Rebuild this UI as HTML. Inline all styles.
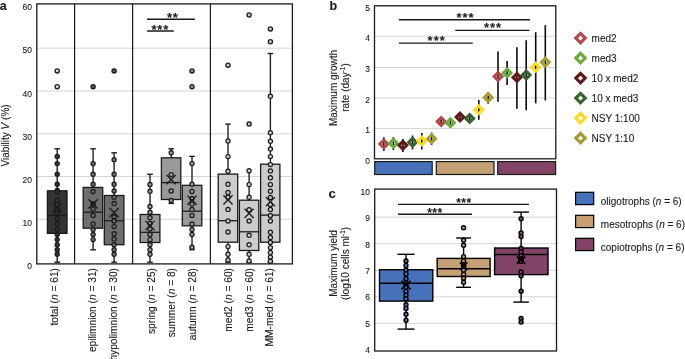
<!DOCTYPE html>
<html lang="en"><head><meta charset="utf-8"><title>Figure</title>
<style>
html,body{margin:0;padding:0;background:#fff;}
body{width:685px;height:359px;overflow:hidden;}
svg{display:block;font-family:"Liberation Sans", sans-serif;}
</style></head><body>
<svg width="685" height="359" viewBox="0 0 685 359">
<rect x="0" y="0" width="685" height="359" fill="#ffffff"/>
<line x1="36.80" y1="48.20" x2="292.40" y2="48.20" stroke="#d4d4d4" stroke-width="1" />
<line x1="36.80" y1="91.00" x2="292.40" y2="91.00" stroke="#d4d4d4" stroke-width="1" />
<line x1="36.80" y1="133.90" x2="292.40" y2="133.90" stroke="#d4d4d4" stroke-width="1" />
<line x1="36.80" y1="176.50" x2="292.40" y2="176.50" stroke="#d4d4d4" stroke-width="1" />
<line x1="36.80" y1="219.20" x2="292.40" y2="219.20" stroke="#d4d4d4" stroke-width="1" />
<text x="32.00" y="10.33" font-size="8.5" text-anchor="end" font-weight="normal" fill="#1a1a1a" stroke="#1a1a1a" stroke-width="0.1" >60</text>
<text x="32.00" y="53.45" font-size="8.5" text-anchor="end" font-weight="normal" fill="#1a1a1a" stroke="#1a1a1a" stroke-width="0.1" >50</text>
<text x="32.00" y="96.57" font-size="8.5" text-anchor="end" font-weight="normal" fill="#1a1a1a" stroke="#1a1a1a" stroke-width="0.1" >40</text>
<text x="32.00" y="139.69" font-size="8.5" text-anchor="end" font-weight="normal" fill="#1a1a1a" stroke="#1a1a1a" stroke-width="0.1" >30</text>
<text x="32.00" y="182.81" font-size="8.5" text-anchor="end" font-weight="normal" fill="#1a1a1a" stroke="#1a1a1a" stroke-width="0.1" >20</text>
<text x="32.00" y="225.93" font-size="8.5" text-anchor="end" font-weight="normal" fill="#1a1a1a" stroke="#1a1a1a" stroke-width="0.1" >10</text>
<text x="32.00" y="269.05" font-size="8.5" text-anchor="end" font-weight="normal" fill="#1a1a1a" stroke="#1a1a1a" stroke-width="0.1" >0</text>
<text x="9.10" y="135.40" font-size="10" text-anchor="middle" font-weight="normal" fill="#1a1a1a" stroke="#1a1a1a" stroke-width="0.1" transform="rotate(-90 9.10 135.40)" >Viability <tspan font-style="italic">V</tspan> (%)</text>
<text x="-0.30" y="10.00" font-size="12.5" text-anchor="start" font-weight="bold" fill="#1a1a1a" stroke="#1a1a1a" stroke-width="0.1" >a</text>
<line x1="57.20" y1="148.80" x2="57.20" y2="262.20" stroke="#1a1a1a" stroke-width="1.35" />
<line x1="54.40" y1="148.80" x2="60.00" y2="148.80" stroke="#1a1a1a" stroke-width="1.35" />
<line x1="54.40" y1="262.20" x2="60.00" y2="262.20" stroke="#1a1a1a" stroke-width="1.35" />
<rect x="47.40" y="190.80" width="19.60" height="42.60" fill="#333333" stroke="#1a1a1a" stroke-width="1.3"/>
<line x1="47.40" y1="215.50" x2="67.00" y2="215.50" stroke="#1a1a1a" stroke-width="1.3" />
<circle cx="57.20" cy="156.40" r="2.1" fill="#333333" stroke="#1a1a1a" stroke-width="1.2"/>
<circle cx="57.20" cy="163.60" r="2.1" fill="#333333" stroke="#1a1a1a" stroke-width="1.2"/>
<circle cx="57.20" cy="174.30" r="2.1" fill="#333333" stroke="#1a1a1a" stroke-width="1.2"/>
<circle cx="57.20" cy="184.20" r="2.1" fill="#333333" stroke="#1a1a1a" stroke-width="1.2"/>
<circle cx="57.20" cy="190.40" r="2.1" fill="#333333" stroke="#1a1a1a" stroke-width="1.2"/>
<circle cx="57.20" cy="191.80" r="2.1" fill="#333333" stroke="#1a1a1a" stroke-width="1.2"/>
<circle cx="57.20" cy="200.50" r="2.1" fill="#333333" stroke="#1a1a1a" stroke-width="1.2"/>
<circle cx="57.20" cy="204.60" r="2.1" fill="#333333" stroke="#1a1a1a" stroke-width="1.2"/>
<circle cx="57.20" cy="209.00" r="2.1" fill="#333333" stroke="#1a1a1a" stroke-width="1.2"/>
<circle cx="57.20" cy="212.60" r="2.1" fill="#333333" stroke="#1a1a1a" stroke-width="1.2"/>
<circle cx="57.20" cy="218.50" r="2.1" fill="#333333" stroke="#1a1a1a" stroke-width="1.2"/>
<circle cx="57.20" cy="223.90" r="2.1" fill="#333333" stroke="#1a1a1a" stroke-width="1.2"/>
<circle cx="57.20" cy="229.10" r="2.1" fill="#333333" stroke="#1a1a1a" stroke-width="1.2"/>
<circle cx="57.20" cy="234.50" r="2.1" fill="#333333" stroke="#1a1a1a" stroke-width="1.2"/>
<circle cx="57.20" cy="239.60" r="2.1" fill="#333333" stroke="#1a1a1a" stroke-width="1.2"/>
<circle cx="57.20" cy="244.70" r="2.1" fill="#333333" stroke="#1a1a1a" stroke-width="1.2"/>
<circle cx="57.20" cy="249.80" r="2.1" fill="#333333" stroke="#1a1a1a" stroke-width="1.2"/>
<circle cx="57.20" cy="254.20" r="2.1" fill="#333333" stroke="#1a1a1a" stroke-width="1.2"/>
<circle cx="57.20" cy="70.90" r="2.1" fill="#d9d9d9" stroke="#1a1a1a" stroke-width="1.3"/>
<circle cx="57.20" cy="86.70" r="2.1" fill="#d9d9d9" stroke="#1a1a1a" stroke-width="1.3"/>
<line x1="52.60" y1="202.90" x2="61.80" y2="212.10" stroke="#1a1a1a" stroke-width="1.3" />
<line x1="52.60" y1="212.10" x2="61.80" y2="202.90" stroke="#1a1a1a" stroke-width="1.3" />
<text x="58.30" y="268.00" font-size="10.2" text-anchor="end" font-weight="normal" fill="#1a1a1a" stroke="#1a1a1a" stroke-width="0.1" transform="rotate(-90 58.30 268.00)" >total (<tspan font-style="italic">n</tspan> = 61)</text>
<line x1="93.10" y1="148.80" x2="93.10" y2="249.80" stroke="#1a1a1a" stroke-width="1.35" />
<line x1="90.30" y1="148.80" x2="95.90" y2="148.80" stroke="#1a1a1a" stroke-width="1.35" />
<line x1="90.30" y1="249.80" x2="95.90" y2="249.80" stroke="#1a1a1a" stroke-width="1.35" />
<rect x="83.20" y="187.40" width="19.50" height="40.80" fill="#6e6e6e" stroke="#1a1a1a" stroke-width="1.3"/>
<line x1="83.20" y1="212.20" x2="102.70" y2="212.20" stroke="#1a1a1a" stroke-width="1.3" />
<circle cx="93.10" cy="163.60" r="2.1" fill="#6e6e6e" stroke="#1a1a1a" stroke-width="1.2"/>
<circle cx="93.10" cy="174.30" r="2.1" fill="#6e6e6e" stroke="#1a1a1a" stroke-width="1.2"/>
<circle cx="93.10" cy="184.20" r="2.1" fill="#6e6e6e" stroke="#1a1a1a" stroke-width="1.2"/>
<circle cx="93.10" cy="191.50" r="2.1" fill="#6e6e6e" stroke="#1a1a1a" stroke-width="1.2"/>
<circle cx="93.10" cy="209.00" r="2.1" fill="#6e6e6e" stroke="#1a1a1a" stroke-width="1.2"/>
<circle cx="93.10" cy="215.50" r="2.1" fill="#6e6e6e" stroke="#1a1a1a" stroke-width="1.2"/>
<circle cx="93.10" cy="223.90" r="2.1" fill="#6e6e6e" stroke="#1a1a1a" stroke-width="1.2"/>
<circle cx="93.10" cy="229.40" r="2.1" fill="#6e6e6e" stroke="#1a1a1a" stroke-width="1.2"/>
<circle cx="93.10" cy="234.50" r="2.1" fill="#6e6e6e" stroke="#1a1a1a" stroke-width="1.2"/>
<circle cx="93.10" cy="239.60" r="2.1" fill="#6e6e6e" stroke="#1a1a1a" stroke-width="1.2"/>
<circle cx="93.10" cy="203.90" r="2.1" fill="#2a2a2a" stroke="#1a1a1a" stroke-width="1.2"/>
<circle cx="93.10" cy="86.70" r="2.1" fill="#5a5a5a" stroke="#1a1a1a" stroke-width="1.3"/>
<line x1="88.50" y1="199.30" x2="97.70" y2="208.50" stroke="#1a1a1a" stroke-width="1.3" />
<line x1="88.50" y1="208.50" x2="97.70" y2="199.30" stroke="#1a1a1a" stroke-width="1.3" />
<text x="96.40" y="268.00" font-size="10.2" text-anchor="end" font-weight="normal" fill="#1a1a1a" stroke="#1a1a1a" stroke-width="0.1" transform="rotate(-90 96.40 268.00)" >epilimnion (<tspan font-style="italic">n</tspan> = 31)</text>
<line x1="114.10" y1="152.80" x2="114.10" y2="262.20" stroke="#1a1a1a" stroke-width="1.35" />
<line x1="111.30" y1="152.80" x2="116.90" y2="152.80" stroke="#1a1a1a" stroke-width="1.35" />
<line x1="111.30" y1="262.20" x2="116.90" y2="262.20" stroke="#1a1a1a" stroke-width="1.35" />
<rect x="104.30" y="195.50" width="19.60" height="49.20" fill="#6e6e6e" stroke="#1a1a1a" stroke-width="1.3"/>
<line x1="104.30" y1="220.70" x2="123.90" y2="220.70" stroke="#1a1a1a" stroke-width="1.3" />
<circle cx="114.10" cy="159.70" r="2.1" fill="#6e6e6e" stroke="#1a1a1a" stroke-width="1.2"/>
<circle cx="114.10" cy="174.30" r="2.1" fill="#6e6e6e" stroke="#1a1a1a" stroke-width="1.2"/>
<circle cx="114.10" cy="184.20" r="2.1" fill="#6e6e6e" stroke="#1a1a1a" stroke-width="1.2"/>
<circle cx="114.10" cy="191.00" r="2.1" fill="#6e6e6e" stroke="#1a1a1a" stroke-width="1.2"/>
<circle cx="114.10" cy="197.30" r="2.1" fill="#6e6e6e" stroke="#1a1a1a" stroke-width="1.2"/>
<circle cx="114.10" cy="203.40" r="2.1" fill="#6e6e6e" stroke="#1a1a1a" stroke-width="1.2"/>
<circle cx="114.10" cy="217.00" r="2.1" fill="#6e6e6e" stroke="#1a1a1a" stroke-width="1.2"/>
<circle cx="114.10" cy="221.00" r="2.1" fill="#6e6e6e" stroke="#1a1a1a" stroke-width="1.2"/>
<circle cx="114.10" cy="226.60" r="2.1" fill="#6e6e6e" stroke="#1a1a1a" stroke-width="1.2"/>
<circle cx="114.10" cy="233.80" r="2.1" fill="#6e6e6e" stroke="#1a1a1a" stroke-width="1.2"/>
<circle cx="114.10" cy="238.90" r="2.1" fill="#6e6e6e" stroke="#1a1a1a" stroke-width="1.2"/>
<circle cx="114.10" cy="244.70" r="2.1" fill="#6e6e6e" stroke="#1a1a1a" stroke-width="1.2"/>
<circle cx="114.10" cy="249.80" r="2.1" fill="#6e6e6e" stroke="#1a1a1a" stroke-width="1.2"/>
<circle cx="114.10" cy="254.20" r="2.1" fill="#6e6e6e" stroke="#1a1a1a" stroke-width="1.2"/>
<circle cx="114.10" cy="70.90" r="2.1" fill="#5a5a5a" stroke="#1a1a1a" stroke-width="1.3"/>
<line x1="109.50" y1="208.00" x2="118.70" y2="217.20" stroke="#1a1a1a" stroke-width="1.3" />
<line x1="109.50" y1="217.20" x2="118.70" y2="208.00" stroke="#1a1a1a" stroke-width="1.3" />
<text x="116.50" y="268.00" font-size="10.2" text-anchor="end" font-weight="normal" fill="#1a1a1a" stroke="#1a1a1a" stroke-width="0.1" transform="rotate(-90 116.50 268.00)" >hypolimnion (<tspan font-style="italic">n</tspan> = 30)</text>
<line x1="150.00" y1="174.30" x2="150.00" y2="262.20" stroke="#1a1a1a" stroke-width="1.35" />
<line x1="147.20" y1="174.30" x2="152.80" y2="174.30" stroke="#1a1a1a" stroke-width="1.35" />
<line x1="147.20" y1="262.20" x2="152.80" y2="262.20" stroke="#1a1a1a" stroke-width="1.35" />
<rect x="140.20" y="214.50" width="19.70" height="28.00" fill="#999999" stroke="#1a1a1a" stroke-width="1.3"/>
<line x1="140.20" y1="232.30" x2="159.90" y2="232.30" stroke="#1a1a1a" stroke-width="1.3" />
<circle cx="150.00" cy="184.50" r="2.1" fill="#999999" stroke="#1a1a1a" stroke-width="1.2"/>
<circle cx="150.00" cy="191.30" r="2.1" fill="#999999" stroke="#1a1a1a" stroke-width="1.2"/>
<circle cx="150.00" cy="206.40" r="2.1" fill="#999999" stroke="#1a1a1a" stroke-width="1.2"/>
<circle cx="150.00" cy="212.20" r="2.1" fill="#999999" stroke="#1a1a1a" stroke-width="1.2"/>
<circle cx="150.00" cy="217.70" r="2.1" fill="#999999" stroke="#1a1a1a" stroke-width="1.2"/>
<circle cx="150.00" cy="223.50" r="2.1" fill="#999999" stroke="#1a1a1a" stroke-width="1.2"/>
<circle cx="150.00" cy="229.00" r="2.1" fill="#999999" stroke="#1a1a1a" stroke-width="1.2"/>
<circle cx="150.00" cy="234.50" r="2.1" fill="#999999" stroke="#1a1a1a" stroke-width="1.2"/>
<circle cx="150.00" cy="239.60" r="2.1" fill="#999999" stroke="#1a1a1a" stroke-width="1.2"/>
<circle cx="150.00" cy="244.70" r="2.1" fill="#999999" stroke="#1a1a1a" stroke-width="1.2"/>
<circle cx="150.00" cy="249.80" r="2.1" fill="#999999" stroke="#1a1a1a" stroke-width="1.2"/>
<circle cx="150.00" cy="254.20" r="2.1" fill="#999999" stroke="#1a1a1a" stroke-width="1.2"/>
<line x1="145.40" y1="220.90" x2="154.60" y2="230.10" stroke="#1a1a1a" stroke-width="1.3" />
<line x1="145.40" y1="230.10" x2="154.60" y2="220.90" stroke="#1a1a1a" stroke-width="1.3" />
<text x="154.70" y="268.00" font-size="10.2" text-anchor="end" font-weight="normal" fill="#1a1a1a" stroke="#1a1a1a" stroke-width="0.1" transform="rotate(-90 154.70 268.00)" >spring (<tspan font-style="italic">n</tspan> = 25)</text>
<line x1="171.20" y1="148.80" x2="171.20" y2="203.40" stroke="#1a1a1a" stroke-width="1.35" />
<line x1="168.40" y1="148.80" x2="174.00" y2="148.80" stroke="#1a1a1a" stroke-width="1.35" />
<line x1="168.40" y1="203.40" x2="174.00" y2="203.40" stroke="#1a1a1a" stroke-width="1.35" />
<rect x="161.40" y="157.80" width="19.40" height="41.70" fill="#999999" stroke="#1a1a1a" stroke-width="1.3"/>
<line x1="161.40" y1="182.60" x2="180.80" y2="182.60" stroke="#1a1a1a" stroke-width="1.3" />
<circle cx="171.20" cy="152.70" r="2.1" fill="#999999" stroke="#1a1a1a" stroke-width="1.2"/>
<circle cx="171.20" cy="174.60" r="2.1" fill="#999999" stroke="#1a1a1a" stroke-width="1.2"/>
<circle cx="171.20" cy="191.00" r="2.1" fill="#999999" stroke="#1a1a1a" stroke-width="1.2"/>
<circle cx="171.20" cy="200.50" r="2.1" fill="#999999" stroke="#1a1a1a" stroke-width="1.2"/>
<line x1="166.60" y1="175.00" x2="175.80" y2="184.20" stroke="#1a1a1a" stroke-width="1.3" />
<line x1="166.60" y1="184.20" x2="175.80" y2="175.00" stroke="#1a1a1a" stroke-width="1.3" />
<text x="175.20" y="268.00" font-size="10.2" text-anchor="end" font-weight="normal" fill="#1a1a1a" stroke="#1a1a1a" stroke-width="0.1" transform="rotate(-90 175.20 268.00)" >summer (<tspan font-style="italic">n</tspan> = 8)</text>
<line x1="192.00" y1="156.40" x2="192.00" y2="249.70" stroke="#1a1a1a" stroke-width="1.35" />
<line x1="189.20" y1="156.40" x2="194.80" y2="156.40" stroke="#1a1a1a" stroke-width="1.35" />
<line x1="189.20" y1="249.70" x2="194.80" y2="249.70" stroke="#1a1a1a" stroke-width="1.35" />
<rect x="182.30" y="185.30" width="19.50" height="40.50" fill="#999999" stroke="#1a1a1a" stroke-width="1.3"/>
<line x1="182.30" y1="211.20" x2="201.80" y2="211.20" stroke="#1a1a1a" stroke-width="1.3" />
<circle cx="192.00" cy="163.60" r="2.1" fill="#999999" stroke="#1a1a1a" stroke-width="1.2"/>
<circle cx="192.00" cy="184.20" r="2.1" fill="#999999" stroke="#1a1a1a" stroke-width="1.2"/>
<circle cx="192.00" cy="191.50" r="2.1" fill="#999999" stroke="#1a1a1a" stroke-width="1.2"/>
<circle cx="192.00" cy="198.50" r="2.1" fill="#999999" stroke="#1a1a1a" stroke-width="1.2"/>
<circle cx="192.00" cy="203.90" r="2.1" fill="#999999" stroke="#1a1a1a" stroke-width="1.2"/>
<circle cx="192.00" cy="209.40" r="2.1" fill="#999999" stroke="#1a1a1a" stroke-width="1.2"/>
<circle cx="192.00" cy="215.50" r="2.1" fill="#999999" stroke="#1a1a1a" stroke-width="1.2"/>
<circle cx="192.00" cy="223.90" r="2.1" fill="#999999" stroke="#1a1a1a" stroke-width="1.2"/>
<circle cx="192.00" cy="229.40" r="2.1" fill="#999999" stroke="#1a1a1a" stroke-width="1.2"/>
<circle cx="192.00" cy="234.50" r="2.1" fill="#999999" stroke="#1a1a1a" stroke-width="1.2"/>
<circle cx="192.00" cy="247.20" r="2.1" fill="#999999" stroke="#1a1a1a" stroke-width="1.2"/>
<circle cx="192.00" cy="70.90" r="2.1" fill="#999999" stroke="#1a1a1a" stroke-width="1.3"/>
<circle cx="192.00" cy="86.70" r="2.1" fill="#999999" stroke="#1a1a1a" stroke-width="1.3"/>
<line x1="187.40" y1="195.60" x2="196.60" y2="204.80" stroke="#1a1a1a" stroke-width="1.3" />
<line x1="187.40" y1="204.80" x2="196.60" y2="195.60" stroke="#1a1a1a" stroke-width="1.3" />
<text x="196.30" y="268.00" font-size="10.2" text-anchor="end" font-weight="normal" fill="#1a1a1a" stroke="#1a1a1a" stroke-width="0.1" transform="rotate(-90 196.30 268.00)" >autumn (<tspan font-style="italic">n</tspan> = 28)</text>
<line x1="228.00" y1="124.10" x2="228.00" y2="262.20" stroke="#1a1a1a" stroke-width="1.35" />
<line x1="225.20" y1="124.10" x2="230.80" y2="124.10" stroke="#1a1a1a" stroke-width="1.35" />
<line x1="225.20" y1="262.20" x2="230.80" y2="262.20" stroke="#1a1a1a" stroke-width="1.35" />
<rect x="218.20" y="174.10" width="19.50" height="68.10" fill="#cccccc" stroke="#1a1a1a" stroke-width="1.3"/>
<line x1="218.20" y1="220.70" x2="237.70" y2="220.70" stroke="#1a1a1a" stroke-width="1.3" />
<circle cx="228.00" cy="140.90" r="2.1" fill="#cccccc" stroke="#1a1a1a" stroke-width="1.2"/>
<circle cx="228.00" cy="156.60" r="2.1" fill="#cccccc" stroke="#1a1a1a" stroke-width="1.2"/>
<circle cx="228.00" cy="171.20" r="2.1" fill="#cccccc" stroke="#1a1a1a" stroke-width="1.2"/>
<circle cx="228.00" cy="184.30" r="2.1" fill="#cccccc" stroke="#1a1a1a" stroke-width="1.2"/>
<circle cx="228.00" cy="192.40" r="2.1" fill="#cccccc" stroke="#1a1a1a" stroke-width="1.2"/>
<circle cx="228.00" cy="197.30" r="2.1" fill="#cccccc" stroke="#1a1a1a" stroke-width="1.2"/>
<circle cx="228.00" cy="209.40" r="2.1" fill="#cccccc" stroke="#1a1a1a" stroke-width="1.2"/>
<circle cx="228.00" cy="221.00" r="2.1" fill="#cccccc" stroke="#1a1a1a" stroke-width="1.2"/>
<circle cx="228.00" cy="232.00" r="2.1" fill="#cccccc" stroke="#1a1a1a" stroke-width="1.2"/>
<circle cx="228.00" cy="246.60" r="2.1" fill="#cccccc" stroke="#1a1a1a" stroke-width="1.2"/>
<circle cx="228.00" cy="254.20" r="2.1" fill="#cccccc" stroke="#1a1a1a" stroke-width="1.2"/>
<circle cx="228.00" cy="260.00" r="2.1" fill="#cccccc" stroke="#1a1a1a" stroke-width="1.2"/>
<circle cx="228.00" cy="65.30" r="2.1" fill="#cccccc" stroke="#1a1a1a" stroke-width="1.3"/>
<line x1="223.40" y1="195.30" x2="232.60" y2="204.50" stroke="#1a1a1a" stroke-width="1.3" />
<line x1="223.40" y1="204.50" x2="232.60" y2="195.30" stroke="#1a1a1a" stroke-width="1.3" />
<text x="232.10" y="268.00" font-size="10.2" text-anchor="end" font-weight="normal" fill="#1a1a1a" stroke="#1a1a1a" stroke-width="0.1" transform="rotate(-90 232.10 268.00)" >med2 (<tspan font-style="italic">n</tspan> = 60)</text>
<line x1="249.10" y1="170.00" x2="249.10" y2="262.20" stroke="#1a1a1a" stroke-width="1.35" />
<line x1="246.30" y1="262.20" x2="251.90" y2="262.20" stroke="#1a1a1a" stroke-width="1.35" />
<rect x="239.40" y="200.20" width="19.40" height="50.30" fill="#cccccc" stroke="#1a1a1a" stroke-width="1.3"/>
<line x1="239.40" y1="231.80" x2="258.80" y2="231.80" stroke="#1a1a1a" stroke-width="1.3" />
<circle cx="249.10" cy="170.70" r="2.1" fill="#cccccc" stroke="#1a1a1a" stroke-width="1.2"/>
<circle cx="249.10" cy="184.60" r="2.1" fill="#cccccc" stroke="#1a1a1a" stroke-width="1.2"/>
<circle cx="249.10" cy="197.30" r="2.1" fill="#cccccc" stroke="#1a1a1a" stroke-width="1.2"/>
<circle cx="249.10" cy="209.70" r="2.1" fill="#cccccc" stroke="#1a1a1a" stroke-width="1.2"/>
<circle cx="249.10" cy="221.00" r="2.1" fill="#cccccc" stroke="#1a1a1a" stroke-width="1.2"/>
<circle cx="249.10" cy="235.30" r="2.1" fill="#cccccc" stroke="#1a1a1a" stroke-width="1.2"/>
<circle cx="249.10" cy="244.70" r="2.1" fill="#cccccc" stroke="#1a1a1a" stroke-width="1.2"/>
<circle cx="249.10" cy="254.20" r="2.1" fill="#cccccc" stroke="#1a1a1a" stroke-width="1.2"/>
<circle cx="249.10" cy="261.00" r="2.1" fill="#cccccc" stroke="#1a1a1a" stroke-width="1.2"/>
<circle cx="249.10" cy="15.00" r="2.1" fill="#cccccc" stroke="#1a1a1a" stroke-width="1.3"/>
<circle cx="249.10" cy="124.10" r="2.1" fill="#cccccc" stroke="#1a1a1a" stroke-width="1.3"/>
<line x1="244.50" y1="208.80" x2="253.70" y2="218.00" stroke="#1a1a1a" stroke-width="1.3" />
<line x1="244.50" y1="218.00" x2="253.70" y2="208.80" stroke="#1a1a1a" stroke-width="1.3" />
<text x="253.00" y="268.00" font-size="10.2" text-anchor="end" font-weight="normal" fill="#1a1a1a" stroke="#1a1a1a" stroke-width="0.1" transform="rotate(-90 253.00 268.00)" >med3 (<tspan font-style="italic">n</tspan> = 60)</text>
<line x1="270.40" y1="53.50" x2="270.40" y2="262.20" stroke="#1a1a1a" stroke-width="1.35" />
<line x1="267.60" y1="53.50" x2="273.20" y2="53.50" stroke="#1a1a1a" stroke-width="1.35" />
<line x1="267.60" y1="262.20" x2="273.20" y2="262.20" stroke="#1a1a1a" stroke-width="1.35" />
<rect x="260.60" y="164.20" width="19.30" height="78.00" fill="#cccccc" stroke="#1a1a1a" stroke-width="1.3"/>
<line x1="260.60" y1="215.10" x2="279.90" y2="215.10" stroke="#1a1a1a" stroke-width="1.3" />
<circle cx="270.40" cy="96.30" r="2.1" fill="#cccccc" stroke="#1a1a1a" stroke-width="1.2"/>
<circle cx="270.40" cy="132.80" r="2.1" fill="#cccccc" stroke="#1a1a1a" stroke-width="1.2"/>
<circle cx="270.40" cy="141.20" r="2.1" fill="#cccccc" stroke="#1a1a1a" stroke-width="1.2"/>
<circle cx="270.40" cy="148.90" r="2.1" fill="#cccccc" stroke="#1a1a1a" stroke-width="1.2"/>
<circle cx="270.40" cy="156.60" r="2.1" fill="#cccccc" stroke="#1a1a1a" stroke-width="1.2"/>
<circle cx="270.40" cy="164.60" r="2.1" fill="#cccccc" stroke="#1a1a1a" stroke-width="1.2"/>
<circle cx="270.40" cy="170.90" r="2.1" fill="#cccccc" stroke="#1a1a1a" stroke-width="1.2"/>
<circle cx="270.40" cy="177.70" r="2.1" fill="#cccccc" stroke="#1a1a1a" stroke-width="1.2"/>
<circle cx="270.40" cy="184.60" r="2.1" fill="#cccccc" stroke="#1a1a1a" stroke-width="1.2"/>
<circle cx="270.40" cy="191.20" r="2.1" fill="#cccccc" stroke="#1a1a1a" stroke-width="1.2"/>
<circle cx="270.40" cy="197.40" r="2.1" fill="#cccccc" stroke="#1a1a1a" stroke-width="1.2"/>
<circle cx="270.40" cy="204.60" r="2.1" fill="#cccccc" stroke="#1a1a1a" stroke-width="1.2"/>
<circle cx="270.40" cy="209.40" r="2.1" fill="#cccccc" stroke="#1a1a1a" stroke-width="1.2"/>
<circle cx="270.40" cy="215.50" r="2.1" fill="#cccccc" stroke="#1a1a1a" stroke-width="1.2"/>
<circle cx="270.40" cy="221.00" r="2.1" fill="#cccccc" stroke="#1a1a1a" stroke-width="1.2"/>
<circle cx="270.40" cy="232.30" r="2.1" fill="#cccccc" stroke="#1a1a1a" stroke-width="1.2"/>
<circle cx="270.40" cy="237.40" r="2.1" fill="#cccccc" stroke="#1a1a1a" stroke-width="1.2"/>
<circle cx="270.40" cy="242.50" r="2.1" fill="#cccccc" stroke="#1a1a1a" stroke-width="1.2"/>
<circle cx="270.40" cy="247.60" r="2.1" fill="#cccccc" stroke="#1a1a1a" stroke-width="1.2"/>
<circle cx="270.40" cy="252.40" r="2.1" fill="#cccccc" stroke="#1a1a1a" stroke-width="1.2"/>
<circle cx="270.40" cy="257.10" r="2.1" fill="#cccccc" stroke="#1a1a1a" stroke-width="1.2"/>
<circle cx="270.40" cy="261.30" r="2.1" fill="#cccccc" stroke="#1a1a1a" stroke-width="1.2"/>
<circle cx="270.40" cy="28.90" r="2.1" fill="#cccccc" stroke="#1a1a1a" stroke-width="1.3"/>
<circle cx="270.40" cy="41.70" r="2.1" fill="#cccccc" stroke="#1a1a1a" stroke-width="1.3"/>
<line x1="265.80" y1="197.10" x2="275.00" y2="206.30" stroke="#1a1a1a" stroke-width="1.3" />
<line x1="265.80" y1="206.30" x2="275.00" y2="197.10" stroke="#1a1a1a" stroke-width="1.3" />
<text x="273.40" y="268.00" font-size="10.2" text-anchor="end" font-weight="normal" fill="#1a1a1a" stroke="#1a1a1a" stroke-width="0.1" transform="rotate(-90 273.40 268.00)" >MM-med (<tspan font-style="italic">n</tspan> = 61)</text>
<rect x="36.8" y="3.9" width="255.60" height="260.00" fill="none" stroke="#1a1a1a" stroke-width="1.3"/>
<line x1="74.60" y1="3.90" x2="74.60" y2="263.90" stroke="#1a1a1a" stroke-width="1.2" />
<line x1="132.60" y1="3.90" x2="132.60" y2="263.90" stroke="#1a1a1a" stroke-width="1.2" />
<line x1="210.40" y1="3.90" x2="210.40" y2="263.90" stroke="#1a1a1a" stroke-width="1.2" />
<line x1="147.10" y1="19.30" x2="194.90" y2="19.30" stroke="#1a1a1a" stroke-width="1.5" />
<line x1="147.10" y1="31.00" x2="173.80" y2="31.00" stroke="#1a1a1a" stroke-width="1.5" />
<text x="172.80" y="21.70" font-size="13" text-anchor="middle" font-weight="bold" fill="#1a1a1a" stroke="#1a1a1a" stroke-width="0.1" letter-spacing="0.8">**</text>
<text x="160.30" y="33.50" font-size="13" text-anchor="middle" font-weight="bold" fill="#1a1a1a" stroke="#1a1a1a" stroke-width="0.1" letter-spacing="0.8">***</text>
<line x1="374.50" y1="36.20" x2="555.80" y2="36.20" stroke="#d4d4d4" stroke-width="1" />
<line x1="374.50" y1="67.50" x2="555.80" y2="67.50" stroke="#d4d4d4" stroke-width="1" />
<line x1="374.50" y1="97.90" x2="555.80" y2="97.90" stroke="#d4d4d4" stroke-width="1" />
<line x1="374.50" y1="128.40" x2="555.80" y2="128.40" stroke="#d4d4d4" stroke-width="1" />
<text x="369.90" y="10.65" font-size="8.5" text-anchor="end" font-weight="normal" fill="#1a1a1a" stroke="#1a1a1a" stroke-width="0.1" >5</text>
<text x="369.90" y="41.35" font-size="8.5" text-anchor="end" font-weight="normal" fill="#1a1a1a" stroke="#1a1a1a" stroke-width="0.1" >4</text>
<text x="369.90" y="72.05" font-size="8.5" text-anchor="end" font-weight="normal" fill="#1a1a1a" stroke="#1a1a1a" stroke-width="0.1" >3</text>
<text x="369.90" y="102.75" font-size="8.5" text-anchor="end" font-weight="normal" fill="#1a1a1a" stroke="#1a1a1a" stroke-width="0.1" >2</text>
<text x="369.90" y="133.45" font-size="8.5" text-anchor="end" font-weight="normal" fill="#1a1a1a" stroke="#1a1a1a" stroke-width="0.1" >1</text>
<text x="369.90" y="164.15" font-size="8.5" text-anchor="end" font-weight="normal" fill="#1a1a1a" stroke="#1a1a1a" stroke-width="0.1" >0</text>
<text x="329.40" y="9.90" font-size="12.5" text-anchor="start" font-weight="bold" fill="#1a1a1a" stroke="#1a1a1a" stroke-width="0.1" >b</text>
<text x="336.60" y="88.00" font-size="10" text-anchor="middle" font-weight="normal" fill="#1a1a1a" stroke="#1a1a1a" stroke-width="0.1" transform="rotate(-90 336.60 88.00)" >Maximum growth</text>
<text x="348.70" y="87.50" font-size="10" text-anchor="middle" font-weight="normal" fill="#1a1a1a" stroke="#1a1a1a" stroke-width="0.1" transform="rotate(-90 348.70 87.50)" >rate (day<tspan font-size="6.5" dy="-3.5">-1</tspan><tspan dy="3.5">)</tspan></text>
<line x1="383.80" y1="137.30" x2="383.80" y2="151.00" stroke="#0a0a0a" stroke-width="1.6" />
<line x1="393.40" y1="137.00" x2="393.40" y2="150.00" stroke="#0a0a0a" stroke-width="1.6" />
<line x1="402.90" y1="139.00" x2="402.90" y2="152.00" stroke="#0a0a0a" stroke-width="1.6" />
<line x1="412.50" y1="135.50" x2="412.50" y2="149.50" stroke="#0a0a0a" stroke-width="1.6" />
<line x1="421.80" y1="133.00" x2="421.80" y2="149.50" stroke="#0a0a0a" stroke-width="1.6" />
<line x1="431.60" y1="132.50" x2="431.60" y2="145.00" stroke="#0a0a0a" stroke-width="1.6" />
<line x1="441.10" y1="117.50" x2="441.10" y2="125.50" stroke="#0a0a0a" stroke-width="1.6" />
<line x1="450.40" y1="119.00" x2="450.40" y2="126.50" stroke="#0a0a0a" stroke-width="1.6" />
<line x1="460.00" y1="113.00" x2="460.00" y2="121.50" stroke="#0a0a0a" stroke-width="1.6" />
<line x1="469.70" y1="114.00" x2="469.70" y2="123.00" stroke="#0a0a0a" stroke-width="1.6" />
<line x1="478.80" y1="100.00" x2="478.80" y2="119.80" stroke="#0a0a0a" stroke-width="1.6" />
<line x1="488.20" y1="92.00" x2="488.20" y2="103.80" stroke="#0a0a0a" stroke-width="1.6" />
<line x1="498.00" y1="51.50" x2="498.00" y2="101.80" stroke="#0a0a0a" stroke-width="1.6" />
<line x1="507.10" y1="61.00" x2="507.10" y2="85.00" stroke="#0a0a0a" stroke-width="1.6" />
<line x1="516.90" y1="47.20" x2="516.90" y2="108.80" stroke="#0a0a0a" stroke-width="1.6" />
<line x1="526.20" y1="40.20" x2="526.20" y2="110.20" stroke="#0a0a0a" stroke-width="1.6" />
<line x1="535.70" y1="32.20" x2="535.70" y2="103.30" stroke="#0a0a0a" stroke-width="1.6" />
<line x1="545.30" y1="25.10" x2="545.30" y2="100.50" stroke="#0a0a0a" stroke-width="1.6" />
<path d="M383.80 140.10L387.70 144.00L383.80 147.90L379.90 144.00Z" fill="none" stroke="#b2474c" stroke-width="3.0" stroke-linejoin="miter"/>
<path d="M393.40 139.40L397.30 143.30L393.40 147.20L389.50 143.30Z" fill="none" stroke="#6bab3e" stroke-width="3.0" stroke-linejoin="miter"/>
<path d="M402.90 141.40L406.80 145.30L402.90 149.20L399.00 145.30Z" fill="none" stroke="#5e1a1c" stroke-width="3.0" stroke-linejoin="miter"/>
<path d="M412.50 138.40L416.40 142.30L412.50 146.20L408.60 142.30Z" fill="none" stroke="#39642d" stroke-width="3.0" stroke-linejoin="miter"/>
<path d="M421.80 137.10L425.70 141.00L421.80 144.90L417.90 141.00Z" fill="none" stroke="#fdd923" stroke-width="3.0" stroke-linejoin="miter"/>
<path d="M431.60 134.80L435.50 138.70L431.60 142.60L427.70 138.70Z" fill="none" stroke="#a89a32" stroke-width="3.0" stroke-linejoin="miter"/>
<path d="M441.10 117.50L445.00 121.40L441.10 125.30L437.20 121.40Z" fill="none" stroke="#b2474c" stroke-width="3.0" stroke-linejoin="miter"/>
<path d="M450.40 118.80L454.30 122.70L450.40 126.60L446.50 122.70Z" fill="none" stroke="#6bab3e" stroke-width="3.0" stroke-linejoin="miter"/>
<path d="M460.00 113.20L463.90 117.10L460.00 121.00L456.10 117.10Z" fill="none" stroke="#5e1a1c" stroke-width="3.0" stroke-linejoin="miter"/>
<path d="M469.70 114.50L473.60 118.40L469.70 122.30L465.80 118.40Z" fill="none" stroke="#39642d" stroke-width="3.0" stroke-linejoin="miter"/>
<path d="M478.80 105.90L482.70 109.80L478.80 113.70L474.90 109.80Z" fill="none" stroke="#fdd923" stroke-width="3.0" stroke-linejoin="miter"/>
<path d="M488.20 93.60L492.10 97.50L488.20 101.40L484.30 97.50Z" fill="none" stroke="#a89a32" stroke-width="3.0" stroke-linejoin="miter"/>
<path d="M498.00 72.50L501.90 76.40L498.00 80.30L494.10 76.40Z" fill="none" stroke="#b2474c" stroke-width="3.0" stroke-linejoin="miter"/>
<path d="M507.10 69.00L511.00 72.90L507.10 76.80L503.20 72.90Z" fill="none" stroke="#6bab3e" stroke-width="3.0" stroke-linejoin="miter"/>
<path d="M516.90 73.50L520.80 77.40L516.90 81.30L513.00 77.40Z" fill="none" stroke="#5e1a1c" stroke-width="3.0" stroke-linejoin="miter"/>
<path d="M526.20 71.00L530.10 74.90L526.20 78.80L522.30 74.90Z" fill="none" stroke="#39642d" stroke-width="3.0" stroke-linejoin="miter"/>
<path d="M535.70 63.40L539.60 67.30L535.70 71.20L531.80 67.30Z" fill="none" stroke="#fdd923" stroke-width="3.0" stroke-linejoin="miter"/>
<path d="M545.30 58.40L549.20 62.30L545.30 66.20L541.40 62.30Z" fill="none" stroke="#a89a32" stroke-width="3.0" stroke-linejoin="miter"/>
<rect x="374.5" y="5.8" width="181.30" height="153.00" fill="none" stroke="#1a1a1a" stroke-width="1.3"/>
<line x1="398.90" y1="19.70" x2="530.00" y2="19.70" stroke="#1a1a1a" stroke-width="1.4" />
<line x1="455.30" y1="30.40" x2="529.40" y2="30.40" stroke="#1a1a1a" stroke-width="1.4" />
<line x1="398.90" y1="43.10" x2="472.80" y2="43.10" stroke="#1a1a1a" stroke-width="1.4" />
<text x="465.60" y="21.80" font-size="13" text-anchor="middle" font-weight="bold" fill="#1a1a1a" stroke="#1a1a1a" stroke-width="0.1" letter-spacing="1.0">***</text>
<text x="493.10" y="32.10" font-size="13" text-anchor="middle" font-weight="bold" fill="#1a1a1a" stroke="#1a1a1a" stroke-width="0.1" letter-spacing="1.0">***</text>
<text x="436.70" y="45.10" font-size="13" text-anchor="middle" font-weight="bold" fill="#1a1a1a" stroke="#1a1a1a" stroke-width="0.1" letter-spacing="1.0">***</text>
<rect x="374.70" y="161.60" width="57.50" height="12.90" fill="#4772ba" stroke="#1a1a1a" stroke-width="1.2"/>
<rect x="436.30" y="161.60" width="57.70" height="12.90" fill="#c4a074" stroke="#1a1a1a" stroke-width="1.2"/>
<rect x="497.70" y="161.60" width="57.90" height="12.90" fill="#824466" stroke="#1a1a1a" stroke-width="1.2"/>
<path d="M580.50 33.40L585.20 38.10L580.50 42.80L575.80 38.10Z" fill="none" stroke="#b2474c" stroke-width="3.1" stroke-linejoin="miter"/>
<text x="591.60" y="41.70" font-size="10" text-anchor="start" font-weight="normal" fill="#1a1a1a" stroke="#1a1a1a" stroke-width="0.1" >med2</text>
<path d="M580.50 53.40L585.20 58.10L580.50 62.80L575.80 58.10Z" fill="none" stroke="#6bab3e" stroke-width="3.1" stroke-linejoin="miter"/>
<text x="591.60" y="61.70" font-size="10" text-anchor="start" font-weight="normal" fill="#1a1a1a" stroke="#1a1a1a" stroke-width="0.1" >med3</text>
<path d="M580.50 73.40L585.20 78.10L580.50 82.80L575.80 78.10Z" fill="none" stroke="#5e1a1c" stroke-width="3.1" stroke-linejoin="miter"/>
<text x="591.60" y="81.70" font-size="10" text-anchor="start" font-weight="normal" fill="#1a1a1a" stroke="#1a1a1a" stroke-width="0.1" >10 x med2</text>
<path d="M580.50 93.40L585.20 98.10L580.50 102.80L575.80 98.10Z" fill="none" stroke="#39642d" stroke-width="3.1" stroke-linejoin="miter"/>
<text x="591.60" y="101.70" font-size="10" text-anchor="start" font-weight="normal" fill="#1a1a1a" stroke="#1a1a1a" stroke-width="0.1" >10 x med3</text>
<path d="M580.50 113.40L585.20 118.10L580.50 122.80L575.80 118.10Z" fill="none" stroke="#fdd923" stroke-width="3.1" stroke-linejoin="miter"/>
<text x="591.60" y="121.70" font-size="10" text-anchor="start" font-weight="normal" fill="#1a1a1a" stroke="#1a1a1a" stroke-width="0.1" >NSY 1:100</text>
<path d="M580.50 133.40L585.20 138.10L580.50 142.80L575.80 138.10Z" fill="none" stroke="#a89a32" stroke-width="3.1" stroke-linejoin="miter"/>
<text x="591.60" y="141.70" font-size="10" text-anchor="start" font-weight="normal" fill="#1a1a1a" stroke="#1a1a1a" stroke-width="0.1" >NSY 1:10</text>
<line x1="374.70" y1="217.15" x2="556.50" y2="217.15" stroke="#d4d4d4" stroke-width="1" />
<line x1="374.70" y1="243.70" x2="556.50" y2="243.70" stroke="#d4d4d4" stroke-width="1" />
<line x1="374.70" y1="270.25" x2="556.50" y2="270.25" stroke="#d4d4d4" stroke-width="1" />
<line x1="374.70" y1="296.80" x2="556.50" y2="296.80" stroke="#d4d4d4" stroke-width="1" />
<line x1="374.70" y1="323.35" x2="556.50" y2="323.35" stroke="#d4d4d4" stroke-width="1" />
<text x="370.00" y="353.15" font-size="8.5" text-anchor="end" font-weight="normal" fill="#1a1a1a" stroke="#1a1a1a" stroke-width="0.1" >4</text>
<text x="370.00" y="326.75" font-size="8.5" text-anchor="end" font-weight="normal" fill="#1a1a1a" stroke="#1a1a1a" stroke-width="0.1" >5</text>
<text x="370.00" y="300.35" font-size="8.5" text-anchor="end" font-weight="normal" fill="#1a1a1a" stroke="#1a1a1a" stroke-width="0.1" >6</text>
<text x="370.00" y="273.95" font-size="8.5" text-anchor="end" font-weight="normal" fill="#1a1a1a" stroke="#1a1a1a" stroke-width="0.1" >7</text>
<text x="370.00" y="247.55" font-size="8.5" text-anchor="end" font-weight="normal" fill="#1a1a1a" stroke="#1a1a1a" stroke-width="0.1" >8</text>
<text x="370.00" y="221.15" font-size="8.5" text-anchor="end" font-weight="normal" fill="#1a1a1a" stroke="#1a1a1a" stroke-width="0.1" >9</text>
<text x="370.00" y="194.75" font-size="8.5" text-anchor="end" font-weight="normal" fill="#1a1a1a" stroke="#1a1a1a" stroke-width="0.1" >10</text>
<text x="328.60" y="198.40" font-size="13.2" text-anchor="start" font-weight="bold" fill="#1a1a1a" stroke="#1a1a1a" stroke-width="0.1" >c</text>
<text x="336.60" y="263.40" font-size="10" text-anchor="middle" font-weight="normal" fill="#1a1a1a" stroke="#1a1a1a" stroke-width="0.1" transform="rotate(-90 336.60 263.40)" >Maximum yield</text>
<text x="348.70" y="263.40" font-size="10" text-anchor="middle" font-weight="normal" fill="#1a1a1a" stroke="#1a1a1a" stroke-width="0.1" transform="rotate(-90 348.70 263.40)" >(log10 cells ml<tspan font-size="6.5" dy="-3.5">-1</tspan><tspan dy="3.5">)</tspan></text>
<line x1="406.00" y1="254.30" x2="406.00" y2="329.10" stroke="#000" stroke-width="1.4" />
<line x1="397.50" y1="254.30" x2="414.50" y2="254.30" stroke="#000" stroke-width="1.4" />
<line x1="397.50" y1="329.10" x2="414.50" y2="329.10" stroke="#000" stroke-width="1.4" />
<rect x="379.50" y="269.70" width="53.30" height="31.40" fill="#4772ba" stroke="#000" stroke-width="1.4"/>
<line x1="379.50" y1="283.20" x2="432.80" y2="283.20" stroke="#000" stroke-width="1.5" />
<circle cx="406.00" cy="261.00" r="2.0" fill="#4772ba" stroke="#000" stroke-width="1.4"/>
<circle cx="406.00" cy="265.40" r="2.0" fill="#4772ba" stroke="#000" stroke-width="1.4"/>
<circle cx="406.00" cy="270.00" r="2.0" fill="#4772ba" stroke="#000" stroke-width="1.4"/>
<circle cx="406.00" cy="273.90" r="2.0" fill="#4772ba" stroke="#000" stroke-width="1.4"/>
<circle cx="406.00" cy="278.80" r="2.0" fill="#4772ba" stroke="#000" stroke-width="1.4"/>
<circle cx="406.00" cy="282.80" r="2.0" fill="#4772ba" stroke="#000" stroke-width="1.4"/>
<circle cx="406.00" cy="285.00" r="2.0" fill="#4772ba" stroke="#000" stroke-width="1.4"/>
<circle cx="406.00" cy="287.30" r="2.0" fill="#4772ba" stroke="#000" stroke-width="1.4"/>
<circle cx="406.00" cy="291.40" r="2.0" fill="#4772ba" stroke="#000" stroke-width="1.4"/>
<circle cx="406.00" cy="295.30" r="2.0" fill="#4772ba" stroke="#000" stroke-width="1.4"/>
<circle cx="406.00" cy="298.90" r="2.0" fill="#4772ba" stroke="#000" stroke-width="1.4"/>
<circle cx="406.00" cy="304.70" r="2.0" fill="#4772ba" stroke="#000" stroke-width="1.4"/>
<circle cx="406.00" cy="308.40" r="2.0" fill="#4772ba" stroke="#000" stroke-width="1.4"/>
<circle cx="406.00" cy="314.20" r="2.0" fill="#4772ba" stroke="#000" stroke-width="1.4"/>
<circle cx="406.00" cy="320.30" r="2.0" fill="#4772ba" stroke="#000" stroke-width="1.4"/>
<line x1="401.40" y1="280.80" x2="410.60" y2="289.40" stroke="#000" stroke-width="1.5" />
<line x1="401.40" y1="289.40" x2="410.60" y2="280.80" stroke="#000" stroke-width="1.5" />
<line x1="463.60" y1="238.00" x2="463.60" y2="287.30" stroke="#000" stroke-width="1.4" />
<line x1="456.20" y1="238.00" x2="471.00" y2="238.00" stroke="#000" stroke-width="1.4" />
<line x1="456.20" y1="287.30" x2="471.00" y2="287.30" stroke="#000" stroke-width="1.4" />
<rect x="437.20" y="258.40" width="52.90" height="18.10" fill="#c4a074" stroke="#000" stroke-width="1.4"/>
<line x1="437.20" y1="268.70" x2="490.10" y2="268.70" stroke="#000" stroke-width="1.5" />
<circle cx="463.60" cy="240.30" r="2.0" fill="#c4a074" stroke="#000" stroke-width="1.4"/>
<circle cx="463.60" cy="245.20" r="2.0" fill="#c4a074" stroke="#000" stroke-width="1.4"/>
<circle cx="463.60" cy="256.60" r="2.0" fill="#c4a074" stroke="#000" stroke-width="1.4"/>
<circle cx="463.60" cy="261.00" r="2.0" fill="#c4a074" stroke="#000" stroke-width="1.4"/>
<circle cx="463.60" cy="264.80" r="2.0" fill="#c4a074" stroke="#000" stroke-width="1.4"/>
<circle cx="463.60" cy="266.00" r="2.0" fill="#c4a074" stroke="#000" stroke-width="1.4"/>
<circle cx="463.60" cy="267.20" r="2.0" fill="#c4a074" stroke="#000" stroke-width="1.4"/>
<circle cx="463.60" cy="270.20" r="2.0" fill="#c4a074" stroke="#000" stroke-width="1.4"/>
<circle cx="463.60" cy="274.40" r="2.0" fill="#c4a074" stroke="#000" stroke-width="1.4"/>
<circle cx="463.60" cy="278.30" r="2.0" fill="#c4a074" stroke="#000" stroke-width="1.4"/>
<circle cx="463.60" cy="282.30" r="2.0" fill="#c4a074" stroke="#000" stroke-width="1.4"/>
<circle cx="463.60" cy="227.80" r="2.0" fill="#c4a074" stroke="#000" stroke-width="1.4"/>
<line x1="459.80" y1="262.50" x2="467.40" y2="269.90" stroke="#000" stroke-width="1.5" />
<line x1="459.80" y1="269.90" x2="467.40" y2="262.50" stroke="#000" stroke-width="1.5" />
<line x1="521.10" y1="212.10" x2="521.10" y2="302.10" stroke="#000" stroke-width="1.4" />
<line x1="513.30" y1="212.10" x2="528.90" y2="212.10" stroke="#000" stroke-width="1.4" />
<line x1="513.30" y1="302.10" x2="528.90" y2="302.10" stroke="#000" stroke-width="1.4" />
<rect x="494.60" y="248.00" width="53.40" height="26.60" fill="#824466" stroke="#000" stroke-width="1.4"/>
<line x1="494.60" y1="254.60" x2="548.00" y2="254.60" stroke="#000" stroke-width="1.5" />
<circle cx="521.10" cy="218.70" r="2.0" fill="#824466" stroke="#000" stroke-width="1.4"/>
<circle cx="521.10" cy="233.00" r="2.0" fill="#824466" stroke="#000" stroke-width="1.4"/>
<circle cx="521.10" cy="236.60" r="2.0" fill="#824466" stroke="#000" stroke-width="1.4"/>
<circle cx="521.10" cy="248.50" r="2.0" fill="#824466" stroke="#000" stroke-width="1.4"/>
<circle cx="521.10" cy="251.90" r="2.0" fill="#824466" stroke="#000" stroke-width="1.4"/>
<circle cx="521.10" cy="255.70" r="2.0" fill="#824466" stroke="#000" stroke-width="1.4"/>
<circle cx="521.10" cy="258.60" r="2.0" fill="#824466" stroke="#000" stroke-width="1.4"/>
<circle cx="521.10" cy="260.00" r="2.0" fill="#824466" stroke="#000" stroke-width="1.4"/>
<circle cx="521.10" cy="261.40" r="2.0" fill="#824466" stroke="#000" stroke-width="1.4"/>
<circle cx="521.10" cy="272.00" r="2.0" fill="#824466" stroke="#000" stroke-width="1.4"/>
<circle cx="521.10" cy="275.70" r="2.0" fill="#824466" stroke="#000" stroke-width="1.4"/>
<circle cx="521.10" cy="291.30" r="2.0" fill="#824466" stroke="#000" stroke-width="1.4"/>
<circle cx="521.10" cy="318.50" r="2.0" fill="#824466" stroke="#000" stroke-width="1.4"/>
<circle cx="521.10" cy="322.10" r="2.0" fill="#824466" stroke="#000" stroke-width="1.4"/>
<line x1="516.80" y1="256.70" x2="525.40" y2="263.70" stroke="#000" stroke-width="1.5" />
<line x1="516.80" y1="263.70" x2="525.40" y2="256.70" stroke="#000" stroke-width="1.5" />
<rect x="374.7" y="189.1" width="181.80" height="161.90" fill="none" stroke="#1a1a1a" stroke-width="1.3"/>
<line x1="398.00" y1="204.40" x2="528.90" y2="204.40" stroke="#1a1a1a" stroke-width="1.4" />
<line x1="398.00" y1="214.30" x2="472.00" y2="214.30" stroke="#1a1a1a" stroke-width="1.4" />
<text x="463.90" y="207.00" font-size="12" text-anchor="middle" font-weight="bold" fill="#1a1a1a" stroke="#1a1a1a" stroke-width="0.1" letter-spacing="0.5">***</text>
<text x="434.90" y="216.70" font-size="12" text-anchor="middle" font-weight="bold" fill="#1a1a1a" stroke="#1a1a1a" stroke-width="0.1" letter-spacing="0.5">***</text>
<rect x="575.60" y="192.30" width="18.10" height="12.30" fill="#4772ba" stroke="#000" stroke-width="1.2"/>
<text x="600.80" y="204.60" font-size="10" text-anchor="start" font-weight="normal" fill="#1a1a1a" stroke="#1a1a1a" stroke-width="0.1" >oligotrophs (<tspan font-style="italic">n</tspan> = 6)</text>
<rect x="575.60" y="215.30" width="18.10" height="12.30" fill="#c4a074" stroke="#000" stroke-width="1.2"/>
<text x="600.80" y="227.60" font-size="10" text-anchor="start" font-weight="normal" fill="#1a1a1a" stroke="#1a1a1a" stroke-width="0.1" >mesotrophs (<tspan font-style="italic">n</tspan> = 6)</text>
<rect x="575.60" y="238.30" width="18.10" height="12.30" fill="#824466" stroke="#000" stroke-width="1.2"/>
<text x="600.80" y="250.60" font-size="10" text-anchor="start" font-weight="normal" fill="#1a1a1a" stroke="#1a1a1a" stroke-width="0.1" >copiotrophs (<tspan font-style="italic">n</tspan> = 6)</text>
</svg>
</body></html>
